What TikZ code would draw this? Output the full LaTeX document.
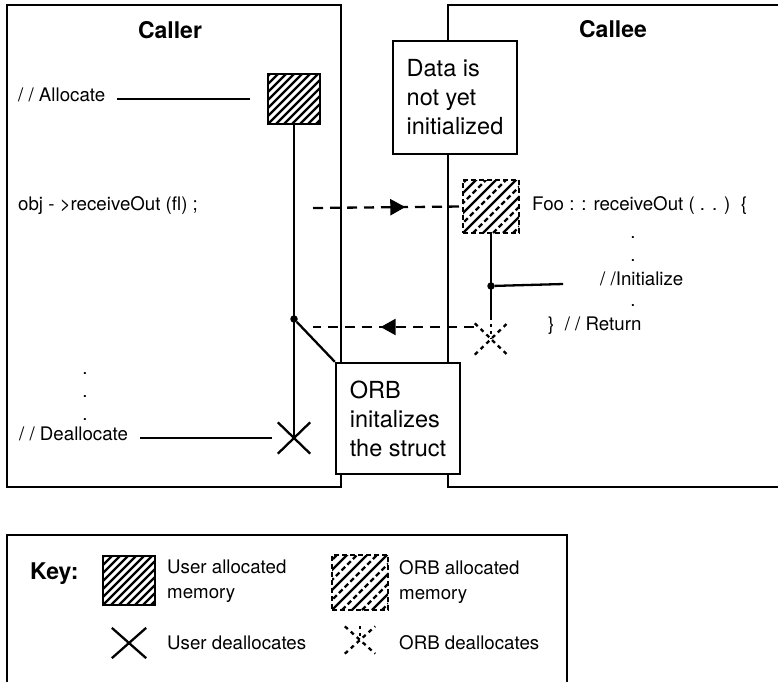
\documentclass[tikz,border=0pt]{standalone}
\usepackage{fontspec}
\setmainfont{TeX Gyre Heros}
\usetikzlibrary{shapes.misc,arrows.meta,decorations.markings}

\begin{document}
\begin{tikzpicture}[x=1pt,y=-1pt,
	heading/.style={font=\bfseries\fontsize{23}{28}\selectfont},
	codetext/.style={inner sep=0pt,font=\fontsize{18.7}{22}\selectfont},
	notebox/.style={draw,line width=2.3pt,fill=white,align=left,inner xsep=10pt,minimum width=124pt,font=\fontsize{23.5}{29}\selectfont},
	memuser/.style={draw,line width=2.3pt,inner sep=0pt,path picture={
		\foreach \k in {-64,-56,...,64}{\draw[line width=2.2pt,solid] ([xshift=\k pt]path picture bounding box.south west) -- ++(80pt,80pt);}}},
	memorb/.style={draw,line width=2.3pt,dash pattern=on 5pt off 3pt,inner sep=0pt,path picture={
		\foreach \k in {-60,-40,...,60}{\draw[line width=2.2pt,solid] ([xshift=\k pt]path picture bounding box.south west) -- ++(80pt,80pt);}
		\foreach \k in {-50,-30,...,70}{\draw[line width=2.2pt,dash pattern=on 5pt off 3pt] ([xshift=\k pt]path picture bounding box.south west) -- ++(80pt,80pt);}}},
	freeuser/.style={cross out,draw,line width=2.3pt,inner sep=0pt},
	freeorb/.style={cross out,draw,line width=2.3pt,dash pattern=on 4pt off 4pt,inner sep=0pt},
	callmsg/.style={line width=2.3pt,dash pattern=on 10pt off 7pt,
		decoration={markings,mark=at position #1 with {\arrow{Triangle[length=15pt,width=16pt]}}},postaction={decorate}},
	dotjoin/.style={circle,fill,inner sep=0pt,minimum size=7.5pt},
	lifeline/.style={line width=2.3pt}]
	\useasboundingbox (0,0) rectangle (778,682);
	\draw[lifeline] (7,5) rectangle (341,487);
	\draw[lifeline] (778,5) -- (448,5) -- (448,487) -- (778,487);
	\draw[lifeline] (7,682) -- (7,535) -- (567,535) -- (567,682);
	\node[heading] (callertitle) at (170,30) {Caller};
	\node[heading] (calleetitle) at (613,29) {Callee};

	\node[memuser,minimum width=52pt,minimum height=50pt] (userblk) at (294,99) {};
	\node[freeuser,minimum width=30pt,minimum height=29pt] (userfree) at (294,438) {};
	\node[memorb,minimum width=56pt,minimum height=53pt] (orbblk) at (491,206.5) {};
	\node[freeorb,minimum width=30pt,minimum height=29pt] (orbfree) at (491,339) {};
	\node[dotjoin] (cjoin) at (294,319) {};
	\node[dotjoin] (ejoin) at (491,286) {};

	\node[codetext,anchor=mid west] (alloclbl) at (18,99) {/ / Allocate};
	\node[codetext,anchor=mid west] (calllbl) at (18,208) {obj - >receiveOut (fl) ;};
	\node[codetext,anchor=mid west] (dealloclbl) at (19,438) {/ / Deallocate};
	\foreach \y [count=\i] in {373,396,419} \node[codetext,anchor=base] (cdot\i) at (85,\y+1) {.};
	\node[codetext,anchor=mid west] (foolbl) at (532,208) {Foo : : receiveOut ( . . )\ \ \{};
	\foreach \y [count=\i] in {237,260,305} \node[codetext,anchor=base] (edot\i) at (633,\y+1) {.};
	\node[codetext,anchor=mid west] (initlbl) at (600,283) {/ /Initialize};
	\node[codetext,anchor=mid west] (retlbl) at (548,328) {\}\ \ / / Return};

	\coordinate (callfrom) at (313,208);
	\coordinate (retfrom) at (474,327);
	\coordinate (retto) at (313,327);
	\draw[callmsg=0.62] (callfrom) -- (orbblk.west);
	\draw[callmsg=0.58] (retfrom) -- (retto);

	\node[notebox,minimum height=113pt] (datanote) at (455,97.5) {Data is\\not yet\\initialized};
	\node[notebox,minimum height=111pt] (orbnote) at (398,418.5) {ORB\\initalizes\\the struct};

	\draw[lifeline] (userblk.south) -- (userfree.center);
	\draw[lifeline] (cjoin) -- (orbnote.north west);
	\draw[lifeline] (orbblk.south) -- ([yshift=6pt]orbfree.north);
	\draw[lifeline,dash pattern=on 3pt off 4pt] ([yshift=6pt]orbfree.north) -- (orbfree.center);
	\draw[lifeline,shorten >=37pt] (ejoin) -- (initlbl.mid west);
	\draw[lifeline,shorten <=12pt,shorten >=17pt] (alloclbl.mid east) -- (userblk.west);
	\draw[lifeline,shorten <=12pt,shorten >=6pt] (dealloclbl.mid east) -- (userfree.west);

	\node[heading,anchor=mid west,inner sep=0pt] (keyhd) at (30,577) {Key:};
	\node[memuser,minimum width=52pt,minimum height=49pt] (keyuser) at (129,580.5) {};
	\node[codetext,anchor=west,align=left,font=\fontsize{18.7}{25}\selectfont] (keyuserlbl) at (167,581) {User allocated\\memory};
	\node[memorb,minimum width=56pt,minimum height=55pt] (keyorb) at (360,582.5) {};
	\node[codetext,anchor=west,align=left,font=\fontsize{18.7}{25}\selectfont] (keyorblbl) at (399,582) {ORB allocated\\memory};
	\node[freeuser,minimum width=32pt,minimum height=28pt] (keyufree) at (129,643) {};
	\node[codetext,anchor=mid west] (keyufreelbl) at (167,647) {User deallocates};
	\node[freeorb,minimum width=28pt,minimum height=25pt] (keyofree) at (360,640) {};
	\draw[lifeline,dash pattern=on 3pt off 4pt] (keyofree.north) -- (keyofree.center);
	\node[codetext,anchor=mid west] (keyofreelbl) at (399,647) {ORB deallocates};
\end{tikzpicture}
\end{document}
